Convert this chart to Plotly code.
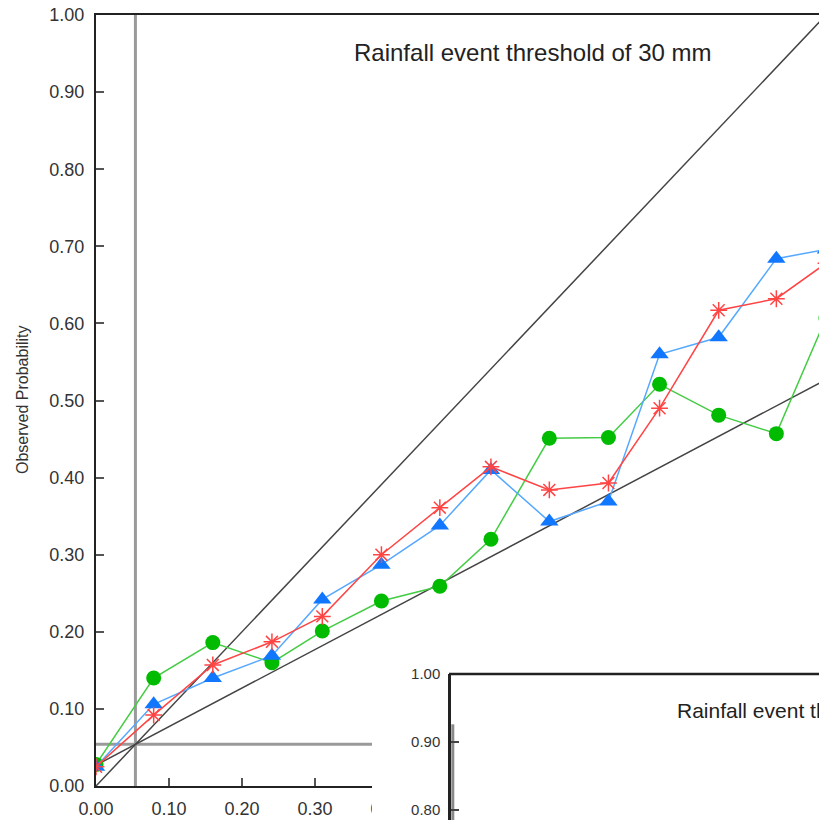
import plotly.graph_objects as go

# ---------------- data ----------------
forecast_prob = [0.0, 0.079, 0.160, 0.241, 0.310, 0.391, 0.471, 0.541, 0.621, 0.702, 0.772, 0.853, 0.932, 1.0]
green_obs = [0.028, 0.140, 0.186, 0.160, 0.201, 0.240, 0.259, 0.320, 0.451, 0.452, 0.521, 0.481, 0.457, 0.607]
blue_obs = [0.025, 0.106, 0.140, 0.169, 0.242, 0.287, 0.338, 0.410, 0.343, 0.369, 0.560, 0.582, 0.684, 0.696]
red_obs = [0.025, 0.092, 0.157, 0.187, 0.220, 0.300, 0.361, 0.414, 0.384, 0.393, 0.490, 0.617, 0.632, 0.678]

climatology = 0.054
perfect_x = [0.0, 1.0]
perfect_y = [0.0, 1.0]
noskill_x = [0.0, 1.0]
noskill_y = [0.027, 0.527]

y_ticks = [0.0, 0.1, 0.2, 0.3, 0.4, 0.5, 0.6, 0.7, 0.8, 0.9, 1.0]
x_ticks = [0.0, 0.1, 0.2, 0.3, 0.4]
tick_text_y = ["%.2f" % v for v in y_ticks]
tick_text_x = ["%.2f" % v for v in x_ticks]

inset_y_ticks = [0.8, 0.9, 1.0]
inset_clim_x = [0.0056, 0.0056]
inset_clim_y = [0.926, 0.70]

title_main = "Rainfall event threshold of 30 mm"
title_inset = "Rainfall event threshold of 50 mm"
y_title = "Observed Probability"

# ---------------- layout geometry ----------------
W, H = 819, 820
ML, MR, MT, MB = 96, 0, 15, 0
PW, PH = W - ML - MR, H - MT - MB

def px_x(p):
    # page pixel -> paper fraction
    return (p - ML) / PW

def px_y(p):
    return (H - MB - p) / PH

FONT = "Liberation Sans, Arial, Helvetica, sans-serif"

fig = go.Figure()

# climatology lines
fig.add_trace(go.Scatter(x=[climatology, climatology], y=[0, 1], mode="lines",
                         line=dict(color="#9a9a9a", width=3), showlegend=False, hoverinfo="skip"))
fig.add_trace(go.Scatter(x=[0, 1], y=[climatology, climatology], mode="lines",
                         line=dict(color="#9a9a9a", width=3), showlegend=False, hoverinfo="skip"))
# perfect reliability and no-skill lines
fig.add_trace(go.Scatter(x=perfect_x, y=perfect_y, mode="lines",
                         line=dict(color="#444444", width=1.5), showlegend=False, hoverinfo="skip"))
fig.add_trace(go.Scatter(x=noskill_x, y=noskill_y, mode="lines",
                         line=dict(color="#444444", width=1.5), showlegend=False, hoverinfo="skip"))

# data series
fig.add_trace(go.Scatter(x=forecast_prob, y=green_obs, mode="lines+markers",
                         line=dict(color="#44cc44", width=1.5),
                         marker=dict(symbol="circle", size=15, color="#00bb00"),
                         showlegend=False))
fig.add_trace(go.Scatter(x=forecast_prob, y=blue_obs, mode="lines+markers",
                         line=dict(color="#55a8ff", width=1.5),
                         marker=dict(symbol="triangle-up", size=16, color="#1177ff"),
                         showlegend=False))
fig.add_trace(go.Scatter(x=forecast_prob, y=red_obs, mode="lines+markers",
                         line=dict(color="#ff4444", width=1.5),
                         marker=dict(symbol="asterisk-open", size=14,
                                     line=dict(color="#ff2222", width=1.5)),
                         showlegend=False))

# inset subplot (second chart, partially visible)
fig.add_trace(go.Scatter(x=inset_clim_x, y=inset_clim_y, mode="lines",
                         line=dict(color="#8a8a8a", width=3),
                         xaxis="x2", yaxis="y2", showlegend=False, hoverinfo="skip"))

x2_left = (372 - 449) / 680
x2_right = (819 - 449) / 680

fig.update_layout(
    width=W, height=H,
    margin=dict(l=ML, r=MR, t=MT, b=MB, pad=0, autoexpand=False),
    paper_bgcolor="white", plot_bgcolor="white",
    font=dict(family=FONT, color="#333333"),
    showlegend=False,
    xaxis=dict(domain=[0, 1], range=[0, PW / 730], showgrid=False, zeroline=False,
               automargin=False,
               showline=True, linecolor="#222222", linewidth=2, mirror=True,
               ticks="inside", ticklen=8, tickwidth=2, tickcolor="#555555",
               tickvals=x_ticks, ticktext=tick_text_x, tickfont=dict(size=18, color="#333333"),
               ticklabelstandoff=5, ticklabeloverflow="allow", anchor="y"),
    yaxis=dict(domain=[px_y(786), 1], range=[0, 1], showgrid=False, zeroline=False,
               automargin=False,
               showline=True, linecolor="#222222", linewidth=2,
               ticks="inside", ticklen=8, tickwidth=2, tickcolor="#555555",
               tickvals=y_ticks, ticktext=tick_text_y, tickfont=dict(size=18, color="#333333"),
               ticklabelstandoff=6, ticklabeloverflow="allow", anchor="x"),
    xaxis2=dict(domain=[px_x(372), 1], range=[x2_left, x2_right], anchor="y2",
                automargin=False,
                showgrid=False, zeroline=False, showline=False, showticklabels=False, ticks=""),
    yaxis2=dict(domain=[0, px_y(674)], range=[1.0 - 146 / 680, 1.0], anchor="free",
                position=px_x(449), showgrid=False, zeroline=False,
                automargin=False,
                showline=True, linecolor="#222222", linewidth=2.5,
                ticks="inside", ticklen=8, tickwidth=2, tickcolor="#444444",
                tickvals=inset_y_ticks, ticktext=["%.2f" % v for v in inset_y_ticks],
                tickfont=dict(size=15, color="#333333"), ticklabelstandoff=5,
                ticklabeloverflow="allow"),
    shapes=[
        dict(type="line", xref="paper", yref="paper", x0=px_x(449), x1=1.0,
             y0=px_y(674), y1=px_y(674), line=dict(color="#222222", width=2.5), layer="above"),
    ],
    annotations=[
        dict(text=title_main, xref="paper", yref="paper", x=px_x(352), y=px_y(52),
             xanchor="left", yanchor="middle", showarrow=False,
             font=dict(size=24, color="#222222", family=FONT)),
        dict(text=title_inset, xref="paper", yref="paper", x=px_x(675), y=px_y(710),
             xanchor="left", yanchor="middle", showarrow=False,
             font=dict(size=21, color="#222222", family=FONT)),
        dict(text=y_title, xref="paper", yref="paper", x=px_x(22), y=px_y(400),
             xanchor="center", yanchor="middle", textangle=-90, showarrow=False,
             font=dict(size=16, color="#333333", family=FONT)),
    ],
)

page_css = (
    "var de=document.documentElement, b=document.body;"
    "de.style.margin='0';de.style.padding='0';de.style.overflow='hidden';de.style.height='820px';"
    "b.style.margin='0';b.style.padding='0';b.style.overflow='hidden';b.style.height='820px';"
    "b.style.lineHeight='0';"
    "var g=document.querySelector('.plotly-graph-div');"
    "if(g){g.style.display='block';g.style.overflow='hidden';}"
)

fig.write_html(
    "out.html",
    config={"displayModeBar": False, "responsive": False},
    post_script=page_css,
)
